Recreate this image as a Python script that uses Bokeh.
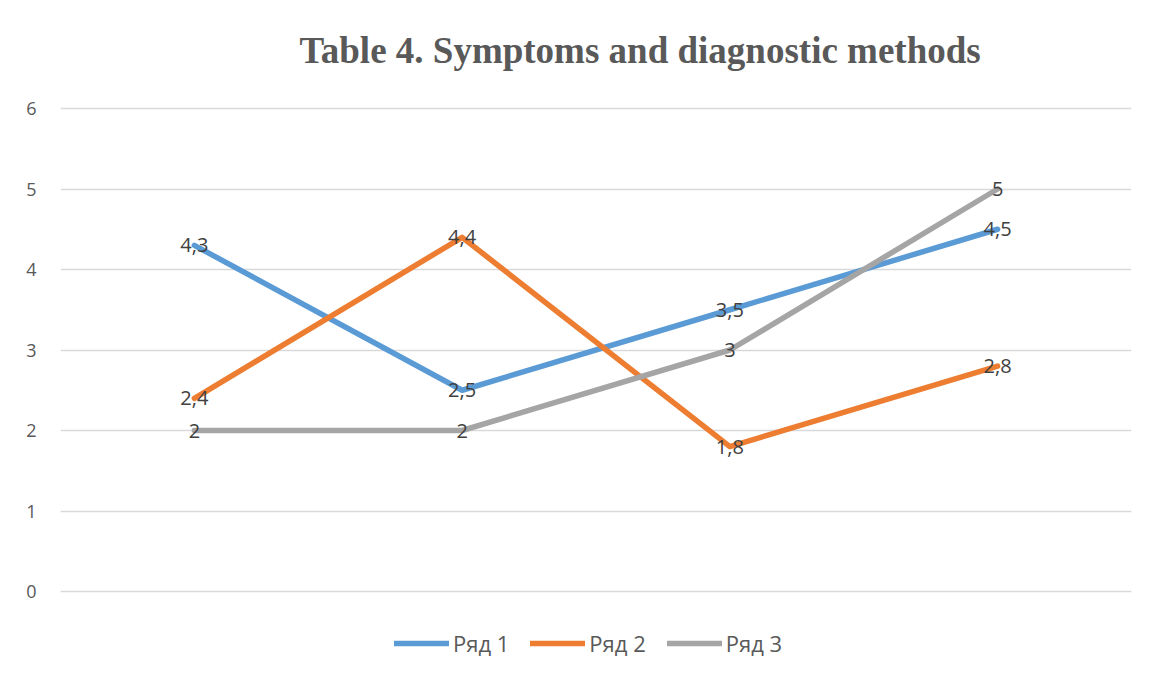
from bokeh.plotting import figure
from bokeh.models import Legend, LegendItem, ColumnDataSource, Label, FactorRange, Range1d
from bokeh.core.properties import value
from bokeh.embed import file_html
from bokeh.resources import INLINE

categories = ["1", "2", "3", "4"]
series_names = ["Ряд 1", "Ряд 2", "Ряд 3"]
row1 = [4.3, 2.5, 3.5, 4.5]
row2 = [2.4, 4.4, 1.8, 2.8]
row3 = [2.0, 2.0, 3.0, 5.0]
y_ticks = [0, 1, 2, 3, 4, 5, 6]
colors = ["#5B9BD5", "#ED7D31", "#A5A5A5"]
title_text = "Table 4. Symptoms and diagnostic methods"

FONT = "Open Sans"

# frame spans past 0..6 so the title and legend areas are inside it
p = figure(width=1147, height=668, output_backend="svg", toolbar_location=None,
           x_range=FactorRange(*categories, range_padding=0),
           y_range=Range1d(-0.857, 7.0932),
           min_border_left=60, min_border_right=16, min_border_top=20, min_border_bottom=8)

p.add_layout(Label(x=239, y=610, x_units="screen", y_units="screen", text=title_text,
                   text_align="left", text_baseline="alphabetic",
                   text_font="Liberation Serif", text_font_size="37px", text_font_style="bold",
                   text_color="#595959"))

p.outline_line_color = None
p.background_fill_color = "white"
p.border_fill_color = "white"
p.xaxis.visible = False
p.xgrid.grid_line_color = None
p.ygrid.grid_line_color = "#d9d9d9"
p.ygrid.grid_line_width = 1.5
p.ygrid.ticker = y_ticks
p.yaxis.ticker = y_ticks
p.yaxis.axis_line_color = None
p.yaxis.major_tick_line_color = None
p.yaxis.minor_tick_line_color = None
p.yaxis.major_tick_out = 0
p.yaxis.major_tick_in = 0
p.yaxis.major_label_standoff = 24
p.yaxis.major_label_text_font = FONT
p.yaxis.major_label_text_font_size = "18px"
p.yaxis.major_label_text_color = "#595959"

items = []
for name, vals, col in zip(series_names, [row1, row2, row3], colors):
    src = ColumnDataSource(dict(x=categories, y=vals))
    r = p.line("x", "y", source=src, line_color=col, line_width=5.5,
               line_cap="round", line_join="round")
    items.append(LegendItem(label=name, renderers=[r]))

for vals in [row1, row2, row3]:
    src = ColumnDataSource(dict(x=categories, y=vals,
                                lab=[("%g" % v).replace(".", ",") for v in vals]))
    p.text("x", "y", text="lab", source=src, text_align="center", text_baseline="middle",
           text_font=value(FONT), text_font_size="20px", text_color="#404040")

legend = Legend(items=items, orientation="horizontal", location=(334, 2),
                border_line_color=None, background_fill_alpha=0,
                glyph_width=55, glyph_height=24, label_height=24,
                label_standoff=4, spacing=21, margin=0, padding=0,
                label_text_font=FONT, label_text_font_size="22px",
                label_text_color="#595959")
p.add_layout(legend)

open("out.html", "w").write(file_html(p, INLINE))
